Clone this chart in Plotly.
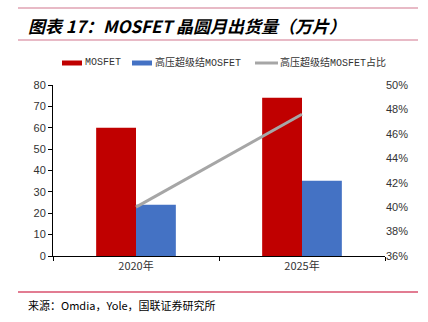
import plotly.graph_objects as go

categories = ["2020年", "2025年"]
mosfet = [60, 74]
sj_mosfet = [24, 35.2]
sj_share = [0.40, 0.476]
series_names = ["MOSFET", "高压超级结MOSFET", "高压超级结MOSFET占比"]
colors = ["#C00000", "#4472C4", "#A6A6A6"]

fig = go.Figure()
fig.add_trace(go.Bar(x=categories, y=mosfet, name=series_names[0], marker_color=colors[0],
                     marker_line_width=0))
fig.add_trace(go.Bar(x=categories, y=sj_mosfet, name=series_names[1], marker_color=colors[1],
                     marker_line_width=0))
fig.add_trace(go.Scatter(x=categories, y=sj_share, name=series_names[2], mode="lines",
                         line=dict(color=colors[2], width=3), yaxis="y2"))

L, R, T, B = 53, 43, 85, 66
PW, PH = 428 - L - R, 322 - T - B


def px(x):
    return (x - L) / PW


def py(y):
    return (322 - B - y) / PH


tick_font = dict(family="Liberation Sans, Arial", size=11, color="#333333")
fig.update_layout(
    width=428, height=322,
    margin=dict(l=L, r=R, t=T, b=B),
    paper_bgcolor="white", plot_bgcolor="white",
    barmode="group", bargap=0.52, bargroupgap=0,
    showlegend=False,
    xaxis=dict(showline=True, linecolor="#000000", linewidth=1, ticks="outside",
               tickcolor="#000000", ticklen=4, tickson="boundaries",
               tickfont=dict(family="Noto Sans CJK SC", size=11, color="#333333"),
               showgrid=False, zeroline=False),
    yaxis=dict(range=[0, 80], dtick=10, showline=True, linecolor="#000000", linewidth=1,
               ticks="outside", tickcolor="#000000", ticklen=4, showgrid=False,
               zeroline=False, tickfont=tick_font),
    yaxis2=dict(range=[0.36, 0.50], dtick=0.02, tickformat=".0%", overlaying="y",
                side="right", showline=False, ticks="", showgrid=False, zeroline=False,
                tickfont=tick_font),
)

# legend (drawn manually to match the reference's wide swatches)
leg_font = dict(family="Liberation Mono, Noto Sans CJK SC", size=10, color="#333333")
ly = 63
swatches = [(62, 82, "rect"), (132, 152, "rect"), (255, 278, "line")]
text_x = [85, 155, 280]
for (x0, x1, kind), name, col, tx in zip(swatches, series_names, colors, text_x):
    if kind == "rect":
        fig.add_shape(type="rect", xref="paper", yref="paper",
                      x0=px(x0), x1=px(x1), y0=py(ly + 2.5), y1=py(ly - 2.5),
                      fillcolor=col, line=dict(width=0))
    else:
        fig.add_shape(type="line", xref="paper", yref="paper",
                      x0=px(x0), x1=px(x1), y0=py(ly), y1=py(ly),
                      line=dict(color=col, width=3))
    fig.add_annotation(text=name, xref="paper", yref="paper", x=px(tx), xanchor="left",
                       y=py(ly), yanchor="middle", showarrow=False, font=leg_font,
                       xshift=-2)

fig.add_annotation(text="<b><i>图表 17：MOSFET 晶圆月出货量（万片）</i></b>", xref="paper", yref="paper",
                   x=px(28), xanchor="left", y=py(25), yanchor="middle",
                   showarrow=False, font=dict(family="Noto Sans CJK SC", size=17, color="#000000"),
                   xshift=-2)
fig.add_annotation(text="来源：Omdia，Yole，国联证券研究所", xref="paper", yref="paper",
                   x=px(28), xanchor="left", y=py(305), yanchor="middle",
                   showarrow=False, font=dict(family="Noto Sans CJK SC", size=11, color="#000000"),
                   xshift=-2)
for ypix, col in [(8, "#E0A3B3"), (40, "#E0A3B3"), (292, "#D9506E")]:
    fig.add_shape(type="line", xref="paper", yref="paper",
                  x0=px(18), x1=px(418), y0=py(ypix), y1=py(ypix),
                  line=dict(color=col, width=1.5))

fig.write_html("out.html")
